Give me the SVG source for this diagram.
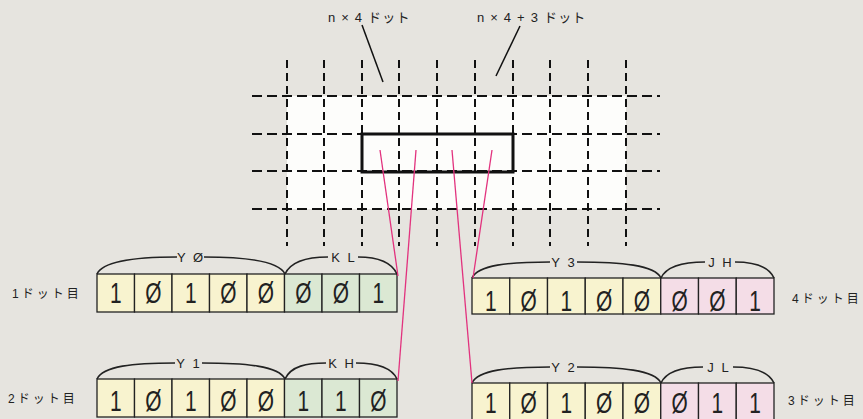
<svg xmlns="http://www.w3.org/2000/svg" width="863" height="419" viewBox="0 0 863 419">
<style>
.vd{stroke:#111;stroke-width:2;stroke-dasharray:8 5;fill:none}
.hd{stroke:#111;stroke-width:2;stroke-dasharray:10 5;fill:none}
.cell{stroke:#222;stroke-width:1.3}
.y{fill:#f8f3cf}.g{fill:#dbe8d3}.p{fill:#f4dde7}
.dg{font-family:"Liberation Sans",sans-serif;font-size:29px;fill:#222;text-anchor:middle}
.br{fill:none;stroke:#222;stroke-width:1.6}
.bl{font-family:"Liberation Sans","Noto Sans CJK JP",sans-serif;font-size:13px;fill:#222;text-anchor:middle;letter-spacing:2px}
.rl{font-family:"Liberation Sans","Noto Sans CJK JP",sans-serif;font-size:12px;fill:#222;letter-spacing:3px}
.tl{font-family:"Liberation Sans","Noto Sans CJK JP",sans-serif;font-size:13px;fill:#222;letter-spacing:1.2px}
.pk{stroke:#e2327e;stroke-width:1.3;fill:none}
.pt{stroke:#111;stroke-width:1.5;fill:none}
</style>
<rect width="863" height="419" fill="#e6e4df"/>
<g id="grid">
<rect x="287" y="96" width="339" height="113" fill="#fdfdfb"/>
<path class="vd" d="M287,60V246M324,60V246M362,60V246M399,60V246M437,60V246M475,60V246M513,60V246M550,60V246M588,60V246M626,60V246"/>
<path class="hd" d="M252,96H660M252,134H660M252,171H660M252,209H660"/>
<rect x="362" y="134" width="151" height="38" fill="none" stroke="#111" stroke-width="3"/>
</g>
<g id="label-n4">
<text class="tl" x="328" y="22">n × 4 ドット</text>
</g>
<g id="label-n43">
<text class="tl" x="477" y="22">n × 4 + 3 ドット</text>
</g>
<g id="row1">
<text class="rl" x="12" y="298">1ドット目</text>
<g class="cell">
<rect class="y" x="97" y="274" width="37.5" height="38"/>
<rect class="y" x="134.5" y="274" width="37.5" height="38"/>
<rect class="y" x="172" y="274" width="37.5" height="38"/>
<rect class="y" x="209.5" y="274" width="37.5" height="38"/>
<rect class="y" x="247" y="274" width="37.5" height="38"/>
<rect class="g" x="284.5" y="274" width="37.5" height="38"/>
<rect class="g" x="322" y="274" width="37.5" height="38"/>
<rect class="g" x="359.5" y="274" width="37.5" height="38"/>
</g>
<text class="dg" transform="translate(115.8,303) scale(0.72,1)">1</text>
<text class="dg" transform="translate(153.3,303) scale(0.72,1)">Ø</text>
<text class="dg" transform="translate(190.8,303) scale(0.72,1)">1</text>
<text class="dg" transform="translate(228.3,303) scale(0.72,1)">Ø</text>
<text class="dg" transform="translate(265.8,303) scale(0.72,1)">Ø</text>
<text class="dg" transform="translate(303.3,303) scale(0.72,1)">Ø</text>
<text class="dg" transform="translate(340.8,303) scale(0.72,1)">Ø</text>
<text class="dg" transform="translate(378.3,303) scale(0.72,1)">1</text>
<path class="br" d="M97,274 C103,261 134,257 177,257 M204,257 C247,257 279,261 285,274 M285,274 C291,261 308,257 328,257 M358,257 C375,257 391,261 397,274"/>
<text class="bl" x="191" y="262">Y Ø</text>
<text class="bl" x="344" y="262">K L</text>
</g>
<g id="row2">
<text class="rl" x="8" y="403">2ドット目</text>
<g class="cell">
<rect class="y" x="97" y="379" width="37.5" height="38"/>
<rect class="y" x="134.5" y="379" width="37.5" height="38"/>
<rect class="y" x="172" y="379" width="37.5" height="38"/>
<rect class="y" x="209.5" y="379" width="37.5" height="38"/>
<rect class="y" x="247" y="379" width="37.5" height="38"/>
<rect class="g" x="284.5" y="379" width="37.5" height="38"/>
<rect class="g" x="322" y="379" width="37.5" height="38"/>
<rect class="g" x="359.5" y="379" width="37.5" height="38"/>
</g>
<text class="dg" transform="translate(115.8,411) scale(0.72,1)">1</text>
<text class="dg" transform="translate(153.3,411) scale(0.72,1)">Ø</text>
<text class="dg" transform="translate(190.8,411) scale(0.72,1)">1</text>
<text class="dg" transform="translate(228.3,411) scale(0.72,1)">Ø</text>
<text class="dg" transform="translate(265.8,411) scale(0.72,1)">Ø</text>
<text class="dg" transform="translate(303.3,411) scale(0.72,1)">1</text>
<text class="dg" transform="translate(340.8,411) scale(0.72,1)">1</text>
<text class="dg" transform="translate(378.3,411) scale(0.72,1)">Ø</text>
<path class="br" d="M97,379 C103,366 133,363 175,363 M202,363 C246,363 279,366 285,379 M285,379 C291,366 307,363 326,363 M356,363 C374,363 391,366 397,379"/>
<text class="bl" x="189" y="368">Y 1</text>
<text class="bl" x="342" y="368">K H</text>
</g>
<g id="row4">
<text class="rl" x="792" y="303">4ドット目</text>
<g class="cell">
<rect class="y" x="472" y="278" width="37.75" height="36"/>
<rect class="y" x="509.75" y="278" width="37.75" height="36"/>
<rect class="y" x="547.5" y="278" width="37.75" height="36"/>
<rect class="y" x="585.25" y="278" width="37.75" height="36"/>
<rect class="y" x="623" y="278" width="37.75" height="36"/>
<rect class="p" x="660.75" y="278" width="37.75" height="36"/>
<rect class="p" x="698.5" y="278" width="37.75" height="36"/>
<rect class="p" x="736.25" y="278" width="37.75" height="36"/>
</g>
<text class="dg" transform="translate(490.9,311) scale(0.72,1)">1</text>
<text class="dg" transform="translate(528.6,311) scale(0.72,1)">Ø</text>
<text class="dg" transform="translate(566.4,311) scale(0.72,1)">1</text>
<text class="dg" transform="translate(604.1,311) scale(0.72,1)">Ø</text>
<text class="dg" transform="translate(641.9,311) scale(0.72,1)">Ø</text>
<text class="dg" transform="translate(679.6,311) scale(0.72,1)">Ø</text>
<text class="dg" transform="translate(717.4,311) scale(0.72,1)">Ø</text>
<text class="dg" transform="translate(755.1,311) scale(0.72,1)">1</text>
<path class="br" d="M472,278 C478,265 508,262 550,262 M577,262 C621,262 655,265 661,278 M661,278 C667,265 685,262 705,262 M735,262 C752,262 768,265 774,278"/>
<text class="bl" x="564" y="267">Y 3</text>
<text class="bl" x="721" y="267">J H</text>
</g>
<g id="row3">
<text class="rl" x="788" y="405">3ドット目</text>
<g class="cell">
<rect class="y" x="472" y="383" width="37.75" height="40"/>
<rect class="y" x="509.75" y="383" width="37.75" height="40"/>
<rect class="y" x="547.5" y="383" width="37.75" height="40"/>
<rect class="y" x="585.25" y="383" width="37.75" height="40"/>
<rect class="y" x="623" y="383" width="37.75" height="40"/>
<rect class="p" x="660.75" y="383" width="37.75" height="40"/>
<rect class="p" x="698.5" y="383" width="37.75" height="40"/>
<rect class="p" x="736.25" y="383" width="37.75" height="40"/>
</g>
<text class="dg" transform="translate(490.9,413) scale(0.72,1)">1</text>
<text class="dg" transform="translate(528.6,413) scale(0.72,1)">Ø</text>
<text class="dg" transform="translate(566.4,413) scale(0.72,1)">1</text>
<text class="dg" transform="translate(604.1,413) scale(0.72,1)">Ø</text>
<text class="dg" transform="translate(641.9,413) scale(0.72,1)">Ø</text>
<text class="dg" transform="translate(679.6,413) scale(0.72,1)">Ø</text>
<text class="dg" transform="translate(717.4,413) scale(0.72,1)">1</text>
<text class="dg" transform="translate(755.1,413) scale(0.72,1)">1</text>
<path class="br" d="M472,383 C478,370 508,367 550,367 M577,367 C621,367 655,370 661,383 M661,383 C667,370 684,367 703,367 M733,367 C751,367 768,370 774,383"/>
<text class="bl" x="564" y="372">Y 2</text>
<text class="bl" x="719" y="372">J L</text>
</g>
<g id="connectors">
<line class="pt" x1="362" y1="25" x2="383" y2="82"/>
<line class="pt" x1="520" y1="26" x2="496" y2="76"/>
<line class="pk" x1="380" y1="150" x2="398" y2="276"/>
<line class="pk" x1="416" y1="150" x2="398" y2="381"/>
<line class="pk" x1="452" y1="150" x2="472" y2="383"/>
<line class="pk" x1="492" y1="150" x2="473" y2="278"/>
</g>
</svg>
